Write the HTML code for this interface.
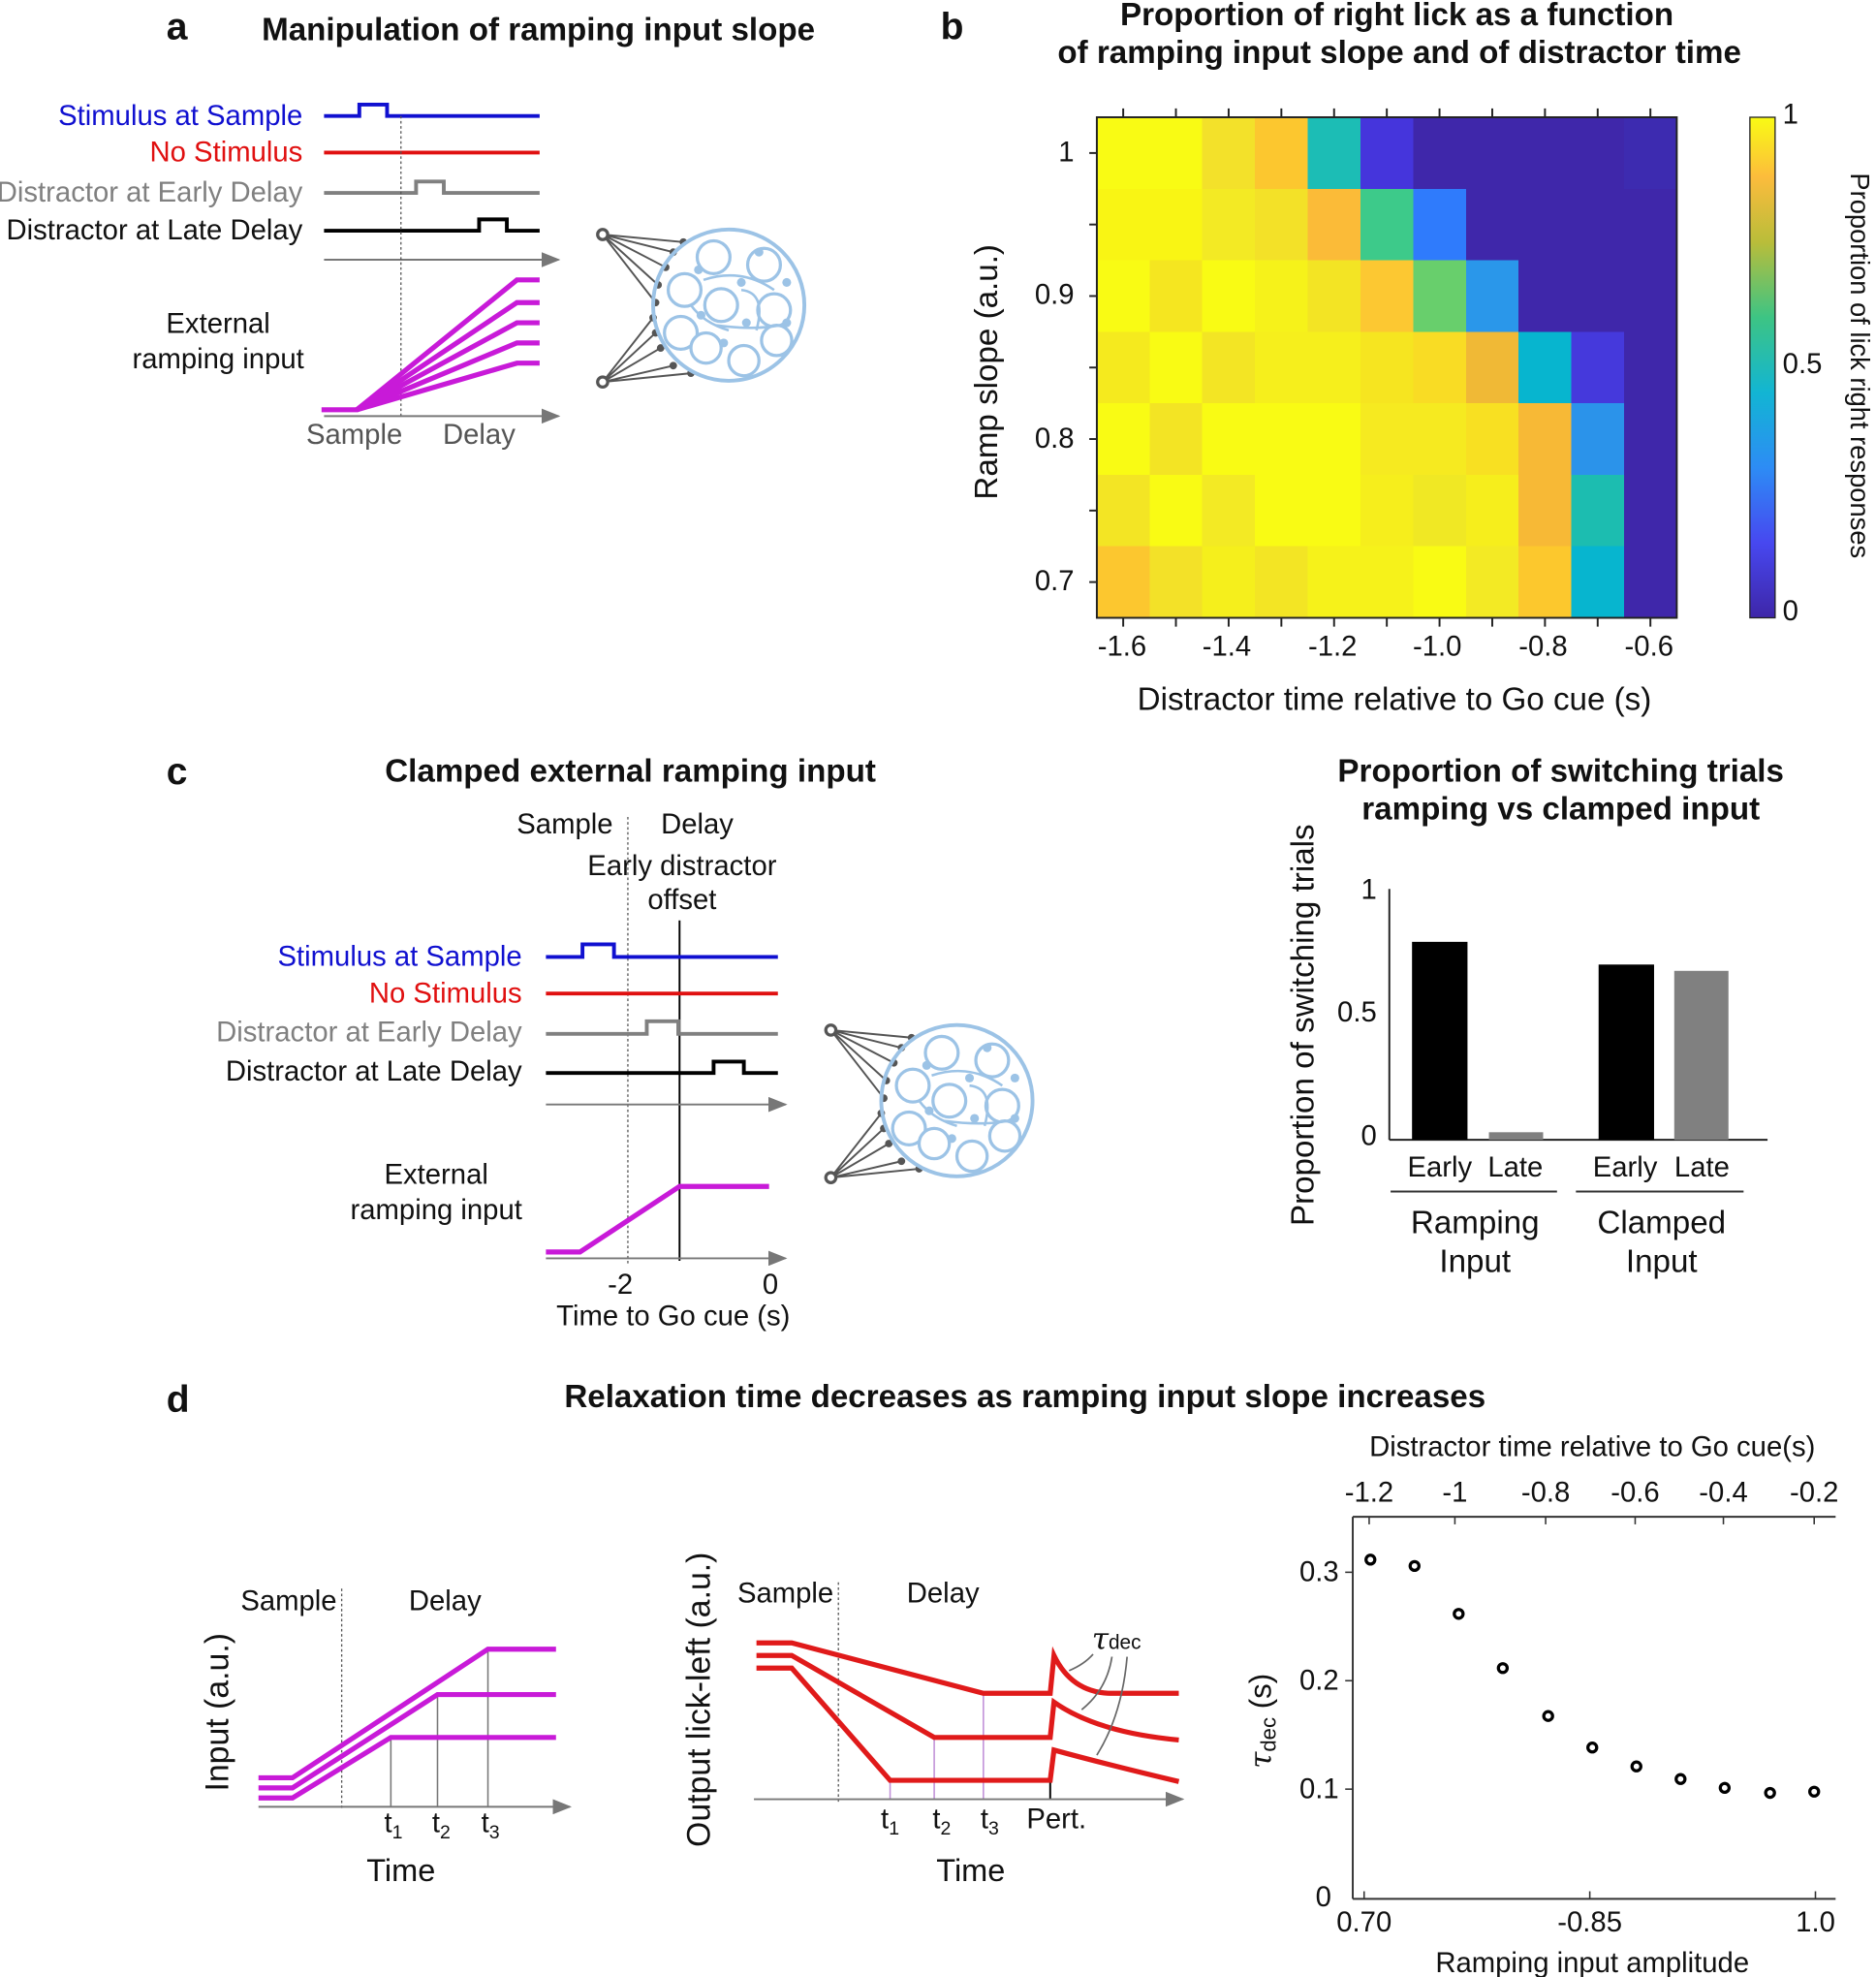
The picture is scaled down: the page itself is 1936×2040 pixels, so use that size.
<!DOCTYPE html>
<html><head><meta charset="utf-8"><style>
html,body{margin:0;padding:0;background:#fff}
svg{display:block}
text{font-family:"Liberation Sans",Arial,sans-serif;fill:#111}
.t{font-size:22.5px}
.b{font-weight:bold;font-size:25.5px}
.L{font-weight:bold;font-size:30px}
.A{font-size:25.5px}
</style></head><body>
<svg width="1936" height="2040" viewBox="0 0 1488 1568" xmlns="http://www.w3.org/2000/svg">
<defs>
<marker id="ar" markerWidth="10" markerHeight="8" refX="9" refY="4" orient="auto"><path d="M0,0 L10,4 L0,8 z" fill="#777"/></marker>
<linearGradient id="cb" x1="0" y1="1" x2="0" y2="0">
<stop offset="0" stop-color="#3e26a8"/><stop offset="0.15" stop-color="#4748f0"/><stop offset="0.3" stop-color="#2d8cf5"/><stop offset="0.45" stop-color="#12b5d3"/><stop offset="0.6" stop-color="#3dc484"/><stop offset="0.75" stop-color="#b9bd3a"/><stop offset="0.88" stop-color="#fcbc3c"/><stop offset="1" stop-color="#f9fb14"/>
</linearGradient>
<g id="net">
<g stroke="#555" stroke-width="1.5" fill="none">
<path d="M-100,-56 L-36,-50 M-100,-56 L-44,-42 M-100,-56 L-50,-30 M-100,-56 L-56,-16 M-100,-56 L-58,-2 M-100,61 L-60,10 M-100,61 L-58,22 M-100,61 L-54,34 M-100,61 L-44,48 M-100,61 L-30,54"/>
</g>
<g fill="#555"><circle cx="-36" cy="-50" r="3"/><circle cx="-44" cy="-42" r="3"/><circle cx="-50" cy="-30" r="3"/><circle cx="-56" cy="-16" r="3"/><circle cx="-58" cy="-2" r="3"/><circle cx="-60" cy="10" r="3"/><circle cx="-58" cy="22" r="3"/><circle cx="-54" cy="34" r="3"/><circle cx="-44" cy="48" r="3"/><circle cx="-30" cy="54" r="3"/></g>
<circle cx="-100" cy="-56" r="4" fill="#fff" stroke="#555" stroke-width="2.5"/>
<circle cx="-100" cy="61" r="4" fill="#fff" stroke="#555" stroke-width="2.5"/>
<circle cx="0" cy="0" r="60" fill="none" stroke="#9cc3e6" stroke-width="3"/>
<g fill="#fff" stroke="#9cc3e6" stroke-width="2.5">
<circle cx="-12" cy="-38" r="13"/><circle cx="28" cy="-32" r="13"/><circle cx="-35" cy="-12" r="13"/><circle cx="-6" cy="0" r="13"/><circle cx="36" cy="4" r="13"/><circle cx="-38" cy="22" r="13"/><circle cx="-18" cy="34" r="12"/><circle cx="12" cy="44" r="12"/><circle cx="38" cy="28" r="12"/>
</g>
<g fill="none" stroke="#9cc3e6" stroke-width="2"><path d="M-20,-20 Q10,-30 36,-12 M-10,16 Q20,20 40,16 M-30,0 Q-20,14 0,20 M10,-12 Q30,-10 22,20"/></g>
<g fill="#9cc3e6"><circle cx="-24" cy="-28" r="3.5"/><circle cx="10" cy="-18" r="3.5"/><circle cx="-22" cy="8" r="3.5"/><circle cx="14" cy="14" r="3.5"/><circle cx="46" cy="-18" r="3.5"/><circle cx="24" cy="-42" r="3.5"/><circle cx="-4" cy="30" r="3.5"/><circle cx="46" cy="14" r="3.5"/></g>
</g>
</defs>

<!-- Panel a -->
<text x="132" y="31" class="L">a</text>
<text x="427" y="32" class="b" text-anchor="middle">Manipulation of ramping input slope</text>
<g class="t" text-anchor="end">
<text x="240" y="99" style="fill:#1010d0">Stimulus at Sample</text>
<text x="240" y="128" style="fill:#e01010">No Stimulus</text>
<text x="240" y="160" style="fill:#808080">Distractor at Early Delay</text>
<text x="240" y="190">Distractor at Late Delay</text>
</g>
<g fill="none" stroke-width="3">
<path d="M257,92 H285 V83 H307 V92 H428" stroke="#1010d0"/>
<path d="M257,121 H428" stroke="#e01010"/>
<path d="M257,153 H330 V144 H352 V153 H428" stroke="#808080"/>
<path d="M257,183 H380 V174 H402 V183 H428" stroke="#000"/>
</g>
<line x1="257" y1="206" x2="443" y2="206" stroke="#777" stroke-width="1.5" marker-end="url(#ar)"/>
<line x1="318" y1="92" x2="318" y2="330" stroke="#555" stroke-width="1" stroke-dasharray="2,2"/>
<g fill="none" stroke="#c81ad8" stroke-width="4">
<path d="M255,325 H283 L410,222 H428"/><path d="M283,325 L410,240 H428"/><path d="M283,325 L410,256 H428"/><path d="M283,325 L410,272 H428"/><path d="M283,325 L410,288 H428"/>
</g>
<line x1="257" y1="330" x2="443" y2="330" stroke="#777" stroke-width="1.5" marker-end="url(#ar)"/>
<text x="173" y="264" class="t" text-anchor="middle">External</text>
<text x="173" y="292" class="t" text-anchor="middle">ramping input</text>
<text x="281" y="352" class="t" text-anchor="middle" style="fill:#555">Sample</text>
<text x="380" y="352" class="t" text-anchor="middle" style="fill:#555">Delay</text>
<use href="#net" x="578" y="242"/>

<!-- Panel b -->
<text x="746" y="31" class="L">b</text>
<text x="1108" y="20" class="b" text-anchor="middle">Proportion of right lick as a function</text>
<text x="1110" y="50" class="b" text-anchor="middle">of ramping input slope and of distractor time</text>
<g id="hm" shape-rendering="crispEdges"></g>
<rect x="870" y="93" width="460" height="397" fill="none" stroke="#222" stroke-width="1.5"/>
<g stroke="#222" stroke-width="1.5" id="ticks"></g>
<g class="t" text-anchor="end">
<text x="852" y="128">1</text><text x="852" y="241">0.9</text><text x="852" y="355">0.8</text><text x="852" y="468">0.7</text>
</g>
<g class="t" text-anchor="middle">
<text x="890" y="520">-1.6</text><text x="973" y="520">-1.4</text><text x="1057" y="520">-1.2</text><text x="1140" y="520">-1.0</text><text x="1224" y="520">-0.8</text><text x="1308" y="520">-0.6</text>
</g>
<text x="1106" y="563" text-anchor="middle" class="A">Distractor time relative to Go cue (s)</text>
<text transform="translate(791,295) rotate(-90)" text-anchor="middle" class="A">Ramp slope (a.u.)</text>
<rect x="1388" y="93" width="20" height="397" fill="url(#cb)" stroke="#222" stroke-width="1"/>
<text x="1414" y="98" class="t">1</text><text x="1414" y="296" class="t">0.5</text><text x="1414" y="492" class="t">0</text>
<text transform="translate(1468,290) rotate(90)" text-anchor="middle" style="font-size:21px">Proportion of lick right responses</text>

<!-- Panel c -->
<text x="132" y="622" class="L">c</text>
<text x="500" y="620" class="b" text-anchor="middle">Clamped external ramping input</text>
<text x="448" y="661" class="t" text-anchor="middle">Sample</text>
<text x="553" y="661" class="t" text-anchor="middle">Delay</text>
<text x="541" y="694" class="t" text-anchor="middle">Early distractor</text>
<text x="541" y="721" class="t" text-anchor="middle">offset</text>
<line x1="498" y1="648" x2="498" y2="1002" stroke="#555" stroke-width="1" stroke-dasharray="2,2"/>
<line x1="539" y1="730" x2="539" y2="1000" stroke="#000" stroke-width="1.5"/>
<g class="t" text-anchor="end">
<text x="414" y="766" style="fill:#1010d0">Stimulus at Sample</text>
<text x="414" y="795" style="fill:#e01010">No Stimulus</text>
<text x="414" y="826" style="fill:#808080">Distractor at Early Delay</text>
<text x="414" y="857">Distractor at Late Delay</text>
</g>
<g fill="none" stroke-width="3">
<path d="M433,759 H462 V749 H487 V759 H617" stroke="#1010d0"/>
<path d="M433,788 H617" stroke="#e01010"/>
<path d="M433,820 H513 V810 H538 V820 H617" stroke="#808080"/>
<path d="M433,851 H566 V842 H590 V851 H617" stroke="#000"/>
</g>
<line x1="433" y1="876" x2="623" y2="876" stroke="#777" stroke-width="1.5" marker-end="url(#ar)"/>
<path d="M433,993 H460 L539,941 H610" fill="none" stroke="#c81ad8" stroke-width="4"/>
<line x1="433" y1="998" x2="623" y2="998" stroke="#777" stroke-width="1.5" marker-end="url(#ar)"/>
<text x="346" y="939" class="t" text-anchor="middle">External</text>
<text x="346" y="967" class="t" text-anchor="middle">ramping input</text>
<text x="492" y="1026" class="t" text-anchor="middle">-2</text>
<text x="611" y="1026" class="t" text-anchor="middle">0</text>
<text x="534" y="1051" class="t" text-anchor="middle">Time to Go cue (s)</text>
<use href="#net" x="759" y="873"/>

<!-- Bar chart -->
<text x="1238" y="620" class="b" text-anchor="middle">Proportion of switching trials</text>
<text x="1238" y="650" class="b" text-anchor="middle">ramping vs clamped input</text>
<text transform="translate(1042,813) rotate(-90)" text-anchor="middle" class="A">Proportion of switching trials</text>
<line x1="1102" y1="705" x2="1102" y2="904" stroke="#222" stroke-width="1.5"/>
<line x1="1102" y1="904" x2="1402" y2="904" stroke="#222" stroke-width="1.5"/>
<g class="t" text-anchor="end"><text x="1092" y="713">1</text><text x="1092" y="810">0.5</text><text x="1092" y="908">0</text></g>
<rect x="1120" y="747" width="44" height="157" fill="#000"/>
<rect x="1181" y="898" width="43" height="6" fill="#808080"/>
<rect x="1268" y="765" width="44" height="139" fill="#000"/>
<rect x="1328" y="770" width="43" height="134" fill="#808080"/>
<g class="t" text-anchor="middle">
<text x="1142" y="933">Early</text><text x="1202" y="933">Late</text><text x="1289" y="933">Early</text><text x="1350" y="933">Late</text>
</g>
<line x1="1103" y1="945" x2="1235" y2="945" stroke="#333" stroke-width="1.5"/>
<line x1="1250" y1="945" x2="1383" y2="945" stroke="#333" stroke-width="1.5"/>
<g text-anchor="middle" class="A">
<text x="1170" y="978">Ramping</text><text x="1170" y="1009">Input</text>
<text x="1318" y="978">Clamped</text><text x="1318" y="1009">Input</text>
</g>

<!-- Panel d -->
<text x="132" y="1120" class="L">d</text>
<text x="813" y="1116" class="b" text-anchor="middle">Relaxation time decreases as ramping input slope increases</text>
<text x="229" y="1277" class="t" text-anchor="middle">Sample</text>
<text x="353" y="1277" class="t" text-anchor="middle">Delay</text>
<line x1="271" y1="1260" x2="271" y2="1436" stroke="#555" stroke-width="1" stroke-dasharray="2,2"/>
<g stroke="#777" stroke-width="1.2"><line x1="310" y1="1378" x2="310" y2="1433"/><line x1="347" y1="1344" x2="347" y2="1433"/><line x1="387" y1="1308" x2="387" y2="1433"/></g>
<g fill="none" stroke="#c81ad8" stroke-width="4">
<path d="M205,1410 H232 L387,1308 H441"/><path d="M205,1418 H232 L347,1344 H441"/><path d="M205,1426 H232 L310,1378 H441"/>
</g>
<line x1="205" y1="1433" x2="452" y2="1433" stroke="#777" stroke-width="1.5" marker-end="url(#ar)"/>
<text x="312" y="1453" class="t" text-anchor="middle">t<tspan font-size="15" dy="5">1</tspan></text>
<text x="350" y="1453" class="t" text-anchor="middle">t<tspan font-size="15" dy="5">2</tspan></text>
<text x="389" y="1453" class="t" text-anchor="middle">t<tspan font-size="15" dy="5">3</tspan></text>
<text x="318" y="1492" text-anchor="middle" style="font-size:25px">Time</text>
<text transform="translate(181,1358) rotate(-90)" text-anchor="middle" style="font-size:26px">Input (a.u.)</text>
<text x="623" y="1271" class="t" text-anchor="middle">Sample</text>
<text x="748" y="1271" class="t" text-anchor="middle">Delay</text>
<line x1="665" y1="1255" x2="665" y2="1430" stroke="#555" stroke-width="1" stroke-dasharray="2,2"/>
<g stroke="#c090d8" stroke-width="1.2"><line x1="706" y1="1412" x2="706" y2="1427"/><line x1="741" y1="1378" x2="741" y2="1427"/><line x1="780" y1="1343" x2="780" y2="1427"/></g>
<line x1="833" y1="1412" x2="833" y2="1427" stroke="#000" stroke-width="1.5"/>
<g fill="none" stroke="#e01a1a" stroke-width="4">
<path d="M600,1303 H628 L780,1343 H833 L836,1313 Q850,1342 880,1343 H935"/>
<path d="M600,1313 H628 L741,1378 H833 L836,1350 Q870,1374 935,1380"/>
<path d="M600,1323 H628 L706,1412 H833 L836,1388 Q880,1400 935,1413"/>
</g>
<line x1="598" y1="1427" x2="938" y2="1427" stroke="#777" stroke-width="1.5" marker-end="url(#ar)"/>
<g stroke="#666" stroke-width="1.3" fill="none"><path d="M867,1312 Q860,1320 848,1325"/><path d="M882,1314 Q878,1340 858,1356"/><path d="M894,1314 Q890,1360 870,1392"/></g>
<text x="866" y="1308" style="font-size:24px;font-style:italic;font-family:'DejaVu Serif',serif">τ<tspan style="font-style:normal;font-size:16px;font-family:'Liberation Sans',sans-serif">dec</tspan></text>
<text x="706" y="1450" class="t" text-anchor="middle">t<tspan font-size="15" dy="5">1</tspan></text>
<text x="747" y="1450" class="t" text-anchor="middle">t<tspan font-size="15" dy="5">2</tspan></text>
<text x="785" y="1450" class="t" text-anchor="middle">t<tspan font-size="15" dy="5">3</tspan></text>
<text x="838" y="1450" class="t" text-anchor="middle">Pert.</text>
<text x="770" y="1492" text-anchor="middle" style="font-size:25px">Time</text>
<text transform="translate(563,1348) rotate(-90)" text-anchor="middle" style="font-size:26px">Output lick-left (a.u.)</text>
<text x="1263" y="1155" class="t" text-anchor="middle">Distractor time relative to Go cue(s)</text>
<g class="t" text-anchor="middle">
<text x="1086" y="1191">-1.2</text><text x="1154" y="1191">-1</text><text x="1226" y="1191">-0.8</text><text x="1297" y="1191">-0.6</text><text x="1367" y="1191">-0.4</text><text x="1439" y="1191">-0.2</text>
</g>
<line x1="1073" y1="1203" x2="1456" y2="1203" stroke="#333" stroke-width="1.5"/>
<line x1="1073" y1="1203" x2="1073" y2="1506" stroke="#333" stroke-width="1.5"/>
<line x1="1073" y1="1506" x2="1456" y2="1506" stroke="#333" stroke-width="1.5"/>
<g stroke="#333" stroke-width="1.2">
<line x1="1086" y1="1203" x2="1086" y2="1209"/><line x1="1154" y1="1203" x2="1154" y2="1209"/><line x1="1226" y1="1203" x2="1226" y2="1209"/><line x1="1297" y1="1203" x2="1297" y2="1209"/><line x1="1367" y1="1203" x2="1367" y2="1209"/><line x1="1439" y1="1203" x2="1439" y2="1209"/>
<line x1="1067" y1="1247" x2="1073" y2="1247"/><line x1="1067" y1="1333" x2="1073" y2="1333"/><line x1="1067" y1="1419" x2="1073" y2="1419"/>
<line x1="1082" y1="1506" x2="1082" y2="1500"/><line x1="1261" y1="1506" x2="1261" y2="1500"/><line x1="1440" y1="1506" x2="1440" y2="1500"/>
</g>
<g class="t" text-anchor="end"><text x="1062" y="1254">0.3</text><text x="1062" y="1340">0.2</text><text x="1062" y="1426">0.1</text><text x="1056" y="1512">0</text></g>
<g class="t" text-anchor="middle"><text x="1082" y="1532">0.70</text><text x="1261" y="1532">-0.85</text><text x="1440" y="1532">1.0</text></g>
<text x="1263" y="1564" class="t" text-anchor="middle">Ramping input amplitude</text>
<text transform="translate(1008,1365) rotate(-90)" text-anchor="middle" style="font-size:24px"><tspan style="font-style:italic;font-family:'DejaVu Serif',serif">τ</tspan><tspan font-size="17" dy="4">dec</tspan><tspan dy="-4"> (s)</tspan></text>
<g fill="none" stroke="#000" stroke-width="2.5">
<circle cx="1087" cy="1237" r="3.5"/><circle cx="1122" cy="1242" r="3.5"/><circle cx="1157" cy="1280" r="3.5"/><circle cx="1192" cy="1323" r="3.5"/><circle cx="1228" cy="1361" r="3.5"/><circle cx="1263" cy="1386" r="3.5"/><circle cx="1298" cy="1401" r="3.5"/><circle cx="1333" cy="1411" r="3.5"/><circle cx="1368" cy="1418" r="3.5"/><circle cx="1404" cy="1422" r="3.5"/><circle cx="1439" cy="1421" r="3.5"/>
</g>
</svg>
<script>
(function(){
var Y='#f9fb14',D='#3f27aa';
var rows=[
[Y,Y,'#f3e12a','#fcc72f','#1cbdb5','#4535dc',D,D,D,D,'#3d2bb0'],
['#f9f514','#f9f514','#f3ea24','#f3e128','#fbbb38','#3dca8a','#2f7bfc',D,D,D,D],
[Y,'#f5e620','#f9fb14','#f6f21a','#f3e424','#fcc832','#68cf6c','#2a97ea',D,D,D],
['#f5ea1e','#f9fb14','#f3e524','#f6ef1c','#f6ef1c','#f6e520','#f9dc24','#f0b936','#07b5cf','#4539dc',D],
[Y,'#f3e424',Y,Y,Y,'#f6ea20','#f6ea20','#f8e022','#f7b936','#2b93ea',D],
['#f3e524',Y,'#f3ea24',Y,Y,'#f6ee1c','#f0e824','#f6ee1c','#f7b936','#1cbdb0',D],
['#fcc72f','#f3e128','#f5ef1c','#f3e524','#f6f21a','#f6f21a','#f9fb14','#f3ea24','#fcc82d','#07b5cf',D]];
var ns='http://www.w3.org/2000/svg',g=document.getElementById('hm'),cw=460/11,rh=397/7;
for(var r=0;r<7;r++)for(var c=0;c<11;c++){var e=document.createElementNS(ns,'rect');e.setAttribute('x',870+c*cw);e.setAttribute('y',93+r*rh);e.setAttribute('width',cw+0.6);e.setAttribute('height',rh+0.6);e.setAttribute('fill',rows[r][c]);g.appendChild(e);}
var t=document.getElementById('ticks');
function ln(a,b,c,d){var e=document.createElementNS(ns,'line');e.setAttribute('x1',a);e.setAttribute('y1',b);e.setAttribute('x2',c);e.setAttribute('y2',d);t.appendChild(e);}
for(var c=0;c<11;c++){var x=870+(c+0.5)*cw;ln(x,86,x,93);ln(x,490,x,497);}
for(var r=0;r<7;r++){var y=93+(r+0.5)*rh;ln(864,y,870,y);}
})();
</script>
</body></html>
